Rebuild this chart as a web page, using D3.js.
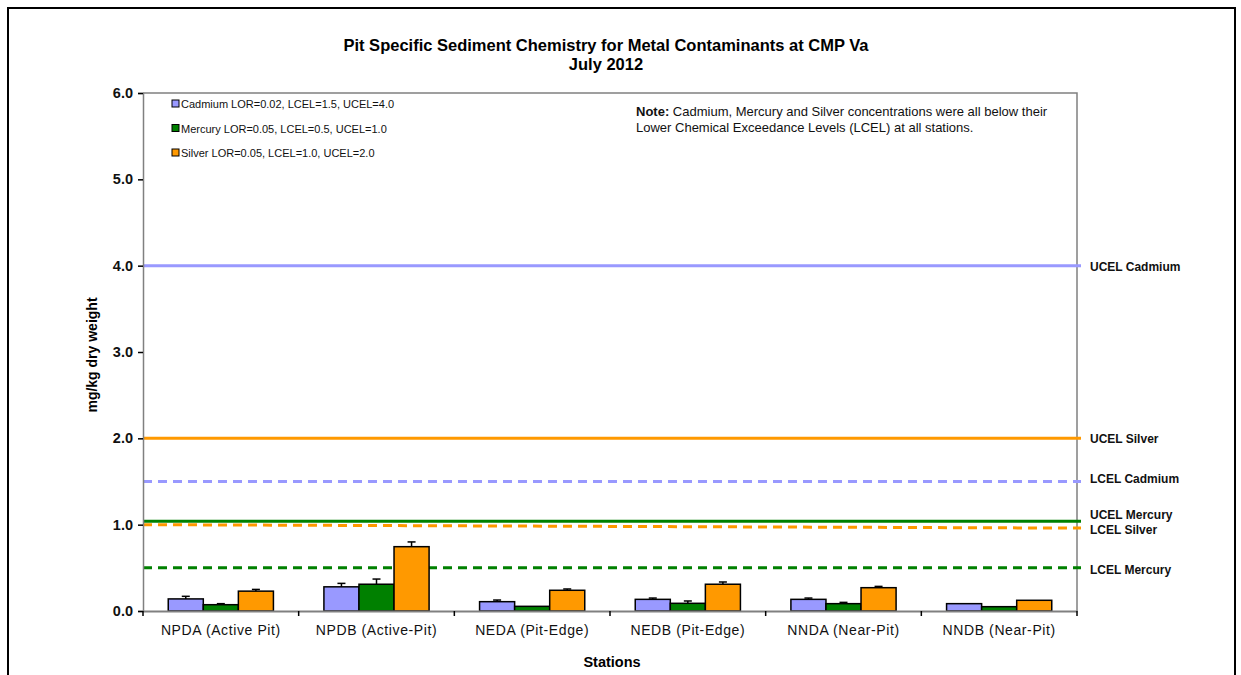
<!DOCTYPE html>
<html>
<head>
<meta charset="utf-8">
<script src="https://cdn.jsdelivr.net/npm/d3@7"></script>
<style>
  body { margin: 0; background: #fff; }
  text { font-family: "Liberation Sans", Arial, sans-serif; }
</style>
</head>
<body>
<script>
// chart data
const stations = ["NPDA (Active Pit)", "NPDB (Active-Pit)", "NEDA (Pit-Edge)", "NEDB (Pit-Edge)", "NNDA (Near-Pit)", "NNDB (Near-Pit)"];
const metals = ["Cadmium", "Mercury", "Silver"];
const legendLabels = ["Cadmium LOR=0.02, LCEL=1.5, UCEL=4.0", "Mercury LOR=0.05, LCEL=0.5, UCEL=1.0", "Silver LOR=0.05, LCEL=1.0, UCEL=2.0"];
const cadmium = [0.14, 0.28, 0.108, 0.135, 0.135, 0.085];
const mercury = [0.073, 0.31, 0.054, 0.089, 0.085, 0.05];
const silver = [0.23, 0.745, 0.24, 0.31, 0.27, 0.124];
const cadmiumErr = [0.03, 0.04, 0.019, 0.015, 0.015, 0];
const mercuryErr = [0.012, 0.06, 0, 0.027, 0.015, 0];
const silverErr = [0.02, 0.055, 0.015, 0.026, 0.015, 0];
const yTicks = [0, 1, 2, 3, 4, 5, 6];
// guideline levels: label, start value, end value, colour, dashed
const guideNames = ["UCEL Cadmium", "UCEL Silver", "LCEL Cadmium", "UCEL Mercury", "LCEL Silver", "LCEL Mercury"];
const guideStart = [4.0, 2.0, 1.5, 1.04, 1.0, 0.5];
const guideEnd = [4.0, 2.0, 1.5, 1.04, 0.96, 0.5];
const guideMetal = ["Cadmium", "Silver", "Cadmium", "Mercury", "Silver", "Mercury"];
const guideDashed = [false, false, true, false, true, true];
const labelOffsets = [1, 1, -3, -6, 2, 2];

const colors = { Cadmium: "#9999ff", Mercury: "#008000", Silver: "#ff9900" };
const values = { Cadmium: cadmium, Mercury: mercury, Silver: silver };
const errs = { Cadmium: cadmiumErr, Mercury: mercuryErr, Silver: silverErr };

const W = 1241, H = 675;
const svg = d3.select("body").append("svg").attr("width", W).attr("height", H);

// outer frame
svg.append("rect").attr("x", 8).attr("y", 8).attr("width", 1227).attr("height", 700)
  .attr("fill", "none").attr("stroke", "#000").attr("stroke-width", 2);

const plotLeft = 143, plotRight = 1077, plotTop = 93, plotBottom = 611;

const x = d3.scaleBand().domain(stations).range([plotLeft, plotRight]).paddingInner(0).paddingOuter(0);
const xInner = d3.scaleBand().domain(metals).range([0, x.bandwidth()]).paddingOuter(0.72).paddingInner(0);
const y = d3.scaleLinear().domain([0, 6]).range([plotBottom, plotTop]);

// title
svg.append("text").attr("x", 606).attr("y", 51).attr("text-anchor", "middle")
  .style("font-size", "16.5px").style("font-weight", "bold")
  .text("Pit Specific Sediment Chemistry for Metal Contaminants at CMP Va");
svg.append("text").attr("x", 606).attr("y", 70).attr("text-anchor", "middle")
  .style("font-size", "16.5px").style("font-weight", "bold").text("July 2012");

// plot frame top/right
svg.append("path").attr("d", `M${plotLeft},${plotTop}H${plotRight}V${plotBottom}`)
  .attr("fill", "none").attr("stroke", "#808080").attr("stroke-width", 1.5);

// guideline levels
guideNames.forEach((name, i) => {
  svg.append("line")
    .attr("x1", plotLeft).attr("x2", plotRight + 4)
    .attr("y1", y(guideStart[i])).attr("y2", y(guideEnd[i]))
    .attr("stroke", colors[guideMetal[i]]).attr("stroke-width", 3)
    .attr("stroke-dasharray", guideDashed[i] ? "9,6" : null);
  svg.append("text").attr("x", plotRight + 13).attr("y", y(guideEnd[i]) + labelOffsets[i] + 4)
    .style("font-size", "12px").style("font-weight", "bold").attr("fill", "#111")
    .text(name);
});

// bars
const groups = svg.selectAll(".station").data(stations).enter().append("g")
  .attr("class", "station")
  .attr("transform", d => `translate(${x(d)},0)`);

metals.forEach(m => {
  groups.append("rect")
    .attr("x", xInner(m)).attr("width", xInner.bandwidth())
    .attr("y", (d, i) => y(values[m][i]))
    .attr("height", (d, i) => y(0) - y(values[m][i]))
    .attr("fill", colors[m]).attr("stroke", "#000").attr("stroke-width", 1.5);
  groups.each(function (d, i) {
    if (!(errs[m][i] > 0)) return;
    const cx = xInner(m) + xInner.bandwidth() / 2;
    const g = d3.select(this);
    const yTop = y(values[m][i] + errs[m][i]);
    g.append("line").attr("x1", cx).attr("x2", cx)
      .attr("y1", y(values[m][i])).attr("y2", yTop)
      .attr("stroke", "#000").attr("stroke-width", 1.5);
    g.append("line").attr("x1", cx - 4).attr("x2", cx + 4)
      .attr("y1", yTop).attr("y2", yTop)
      .attr("stroke", "#000").attr("stroke-width", 1.5);
  });
});

// y axis
const yAxis = svg.append("g").attr("transform", `translate(${plotLeft},0)`)
  .call(d3.axisLeft(y).tickValues(yTicks).tickFormat(d3.format(".1f")).tickSize(5).tickPadding(5));
yAxis.select(".domain").attr("stroke", "#808080").attr("stroke-width", 1.5);
yAxis.selectAll(".tick line").attr("stroke", "#000").attr("stroke-width", 1.5);
yAxis.selectAll(".tick text").style("font-size", "14.5px").style("font-weight", "bold")
  .style("font-family", "'Liberation Sans', Arial, sans-serif").attr("fill", "#111");

// x axis
const xAxis = svg.append("g").attr("transform", `translate(0,${plotBottom})`)
  .call(d3.axisBottom(x).tickSize(0).tickPadding(14));
xAxis.select(".domain").attr("stroke", "#808080").attr("stroke-width", 2);
xAxis.selectAll(".tick text").style("font-size", "14px").style("letter-spacing", "0.6px")
  .style("font-family", "'Liberation Sans', Arial, sans-serif").attr("fill", "#111");
// category separator ticks
xAxis.selectAll(".sep").data(stations.concat([null])).enter().append("line")
  .attr("class", "sep")
  .attr("x1", (d, i) => plotLeft + i * x.step()).attr("x2", (d, i) => plotLeft + i * x.step())
  .attr("y1", 0).attr("y2", 5).attr("stroke", "#000").attr("stroke-width", 1.5);

// axis titles
svg.append("text").attr("transform", `translate(97,${(plotTop + plotBottom) / 2 + 3}) rotate(-90)`)
  .attr("text-anchor", "middle").style("font-size", "14px").style("font-weight", "bold")
  .text("mg/kg dry weight");
svg.append("text").attr("x", 612).attr("y", 667).attr("text-anchor", "middle")
  .style("font-size", "14.5px").style("font-weight", "bold").text("Stations");

// legend
metals.forEach((m, i) => {
  const ly = 104 + i * 24.5;
  svg.append("rect").attr("x", 172).attr("y", ly - 4).attr("width", 7).attr("height", 7)
    .attr("fill", colors[m]).attr("stroke", "#000").attr("stroke-width", 1);
  svg.append("text").attr("x", 181).attr("y", ly + 4).style("font-size", "11px")
    .attr("fill", "#111").text(legendLabels[i]);
});

// note
const note = svg.append("text").attr("x", 636).attr("y", 116).style("font-size", "13px").attr("fill", "#111");
note.append("tspan").style("font-weight", "bold").text("Note:");
note.append("tspan").text(" Cadmium, Mercury and Silver concentrations were all below their");
svg.append("text").attr("x", 636).attr("y", 132).style("font-size", "13px").attr("fill", "#111")
  .text("Lower Chemical Exceedance Levels  (LCEL) at all stations.");
</script>
</body>
</html>
